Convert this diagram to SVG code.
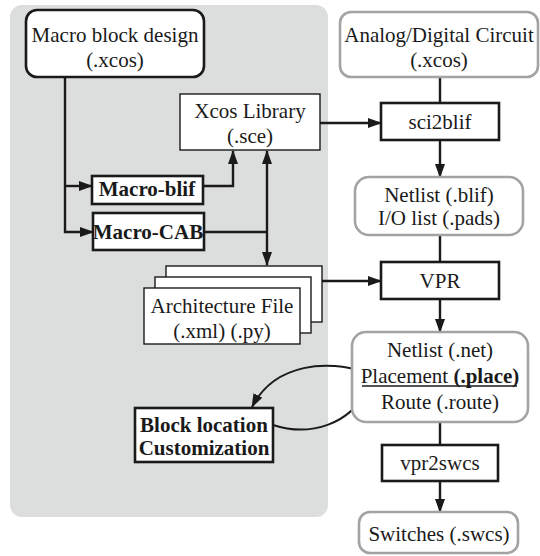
<svg xmlns="http://www.w3.org/2000/svg" width="540" height="556" viewBox="0 0 540 556">
<defs>
<style>
text{font-family:'Liberation Serif','DejaVu Serif',serif;font-size:21px;fill:#1a1a1a;text-anchor:middle}
.b{font-weight:bold}
.blk{fill:#fff;stroke:#1a1a1a;stroke-width:2.6}
.thin{fill:#fff;stroke:#1a1a1a;stroke-width:1.4}
.gray{fill:#fff;stroke:#a3a3a3;stroke-width:2.6}
.c{fill:none;stroke:#1a1a1a;stroke-width:2.4}
.cv{fill:none;stroke:#1a1a1a;stroke-width:2}
</style>
<marker id="ah" viewBox="0 0 14 10" refX="13" refY="5" markerWidth="14" markerHeight="10" markerUnits="userSpaceOnUse" orient="auto-start-reverse">
<path d="M0,0 L14,5 L0,10 Z" fill="#1a1a1a"/>
</marker>
</defs>
<rect x="10" y="5" width="318" height="512" rx="12" fill="#dcdddd"/>
<g id="connectors">
<path class="c" d="M65,77 V232 H93" marker-end="url(#ah)"/>
<path class="c" d="M65,186 H92" marker-end="url(#ah)"/>
<path class="c" d="M203,186 H233 V151" marker-end="url(#ah)"/>
<path class="c" d="M204,232 H267"/>
<path class="c" d="M267,151 V265" marker-start="url(#ah)" marker-end="url(#ah)"/>
<path class="c" d="M320,123 H381" marker-end="url(#ah)"/>
<path class="c" d="M440,77 V103"/>
<path class="c" d="M440,140 V177" marker-end="url(#ah)"/>
<path class="c" d="M440,235 V262"/>
<path class="c" d="M440,299 V332" marker-end="url(#ah)"/>
<path class="c" d="M322,281 H381" marker-end="url(#ah)"/>
<path class="c" d="M440,422 V445"/>
<path class="c" d="M440,481 V512" marker-end="url(#ah)"/>
<path class="cv" d="M363,372 C330,360 275,362 252,407" marker-end="url(#ah)"/>
<path class="cv" d="M273,425 C310,437 350,425 368,388" marker-end="url(#ah)"/>
</g>
<g id="macro-block-design">
<rect class="blk" x="26" y="10" width="178" height="67" rx="11"/>
<text x="115" y="42">Macro block design</text>
<text x="115" y="67">(.xcos)</text>
</g>
<g id="analog-digital-circuit">
<rect class="gray" x="340" y="12" width="198" height="65" rx="11"/>
<text x="439" y="42">Analog/Digital Circuit</text>
<text x="439" y="67">(.xcos)</text>
</g>
<g id="xcos-library">
<rect class="thin" x="180" y="94" width="140" height="56"/>
<text x="250" y="118">Xcos Library</text>
<text x="250" y="143">(.sce)</text>
</g>
<g id="sci2blif">
<rect class="blk" x="381" y="103" width="118" height="37"/>
<text x="440" y="129">sci2blif</text>
</g>
<g id="macro-blif">
<rect class="blk" x="92" y="176" width="111" height="28"/>
<text class="b" x="147" y="196">Macro-blif</text>
</g>
<g id="macro-cab">
<rect class="blk" x="93" y="213" width="111" height="37"/>
<text class="b" x="148" y="239">Macro-CAB</text>
</g>
<g id="netlist-blif">
<rect class="gray" x="355" y="177" width="168" height="58" rx="14"/>
<text x="439" y="202">Netlist (.blif)</text>
<text x="439" y="225">I/O list (.pads)</text>
</g>
<g id="architecture-file">
<rect class="thin" x="166" y="266" width="156" height="56"/>
<rect class="thin" x="155" y="277" width="156" height="56"/>
<rect class="thin" x="144" y="288" width="156" height="56"/>
<text x="222" y="313">Architecture File</text>
<text x="222" y="338">(.xml) (.py)</text>
</g>
<g id="vpr">
<rect class="blk" x="381" y="262" width="118" height="37"/>
<text x="440" y="288">VPR</text>
</g>
<g id="netlist-net">
<rect class="gray" x="352" y="332" width="176" height="90" rx="14"/>
<text x="440" y="357">Netlist (.net)</text>
<text x="440" y="383">Placement <tspan class="b">(.place)</tspan></text>
<line x1="362" y1="386" x2="517" y2="386" stroke="#1a1a1a" stroke-width="1.5"/>
<text x="440" y="409">Route (.route)</text>
</g>
<g id="block-location">
<rect class="blk" x="135" y="408" width="138" height="54"/>
<text class="b" x="204" y="432">Block location</text>
<text class="b" x="204" y="455">Customization</text>
</g>
<g id="vpr2swcs">
<rect class="blk" x="382" y="445" width="116" height="36"/>
<text x="440" y="470">vpr2swcs</text>
</g>
<g id="switches">
<rect class="gray" x="359" y="512" width="159" height="41" rx="11"/>
<text x="439" y="541">Switches (.swcs)</text>
</g>
</svg>
